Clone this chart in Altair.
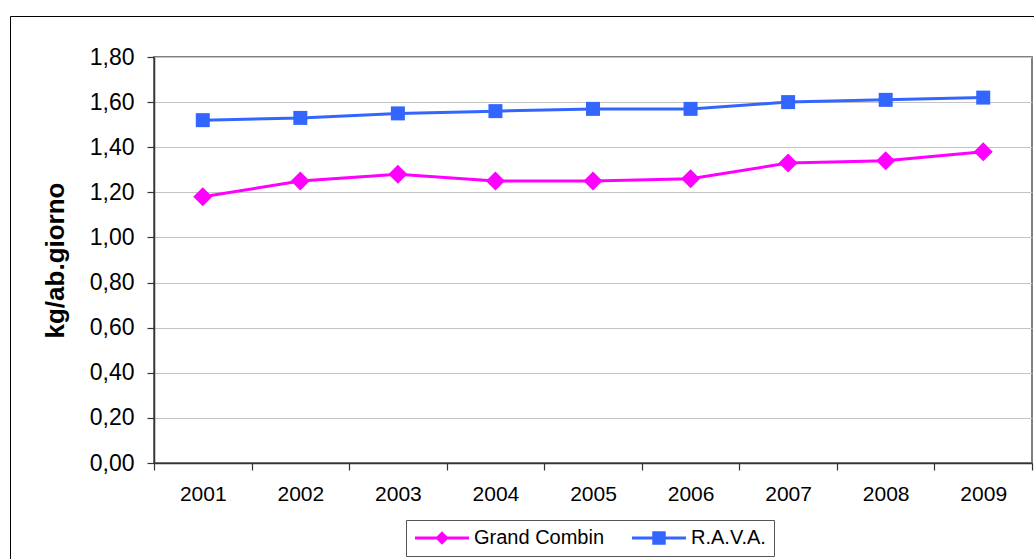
import altair as alt
import pandas as pd

# Daily waste per inhabitant (kg/ab.giorno), 2001-2009
years = ["2001", "2002", "2003", "2004", "2005", "2006", "2007", "2008", "2009"]
grand_combin = [1.18, 1.25, 1.28, 1.25, 1.25, 1.26, 1.33, 1.34, 1.38]
rava = [1.52, 1.53, 1.55, 1.56, 1.57, 1.57, 1.60, 1.61, 1.62]
series = ["Grand Combin", "R.A.V.A."]
colors = ["#FF00FF", "#3366FF"]
markers = ["diamond", "square"]
marker_sizes = [361, 196]
y_ticks = [0.0, 0.2, 0.4, 0.6, 0.8, 1.0, 1.2, 1.4, 1.6, 1.8]

df = pd.DataFrame({
    "anno": years * 2,
    "valore": grand_combin + rava,
    "serie": [series[0]] * len(years) + [series[1]] * len(years),
})

W, H = 878, 406
FONT = "Liberation Sans"

# legend glyphs: a short line with the marker in the middle
# (symbol size 324 -> 9 px per path unit)
legend_paths = [
    "M-3,-0.167H3V0.167H-3Z M0,-0.75L0.75,0L0,0.75L-0.75,0Z",
    "M-3,-0.167H3V0.167H-3Z M-0.75,-0.75H0.75V0.75H-0.75Z",
]

x_enc = alt.X(
    "anno:O",
    scale=alt.Scale(type="band", paddingInner=0, paddingOuter=0),
    bandPosition=0.5,
    axis=alt.Axis(
        title=None, labelAngle=0, tickBand="extent", grid=False,
        tickSize=7, labelPadding=13, labelFontSize=21,
    ),
)
y_enc = alt.Y(
    "valore:Q",
    scale=alt.Scale(domain=[0, 1.8], nice=False),
    axis=alt.Axis(
        values=y_ticks,
        labelExpr="replace(format(datum.value, '.2f'), '.', ',')",
        title="kg/ab.giorno", titleFontWeight="bold", titleFontSize=26,
        titlePadding=21, labelFontSize=23, tickSize=7, labelPadding=13,
        grid=True, gridColor="#c4c4c4", gridWidth=1,
    ),
)

base = alt.Chart(df)

# one line + marker layer per series
series_layers = []
for name, col, shp, sz in zip(series, colors, markers, marker_sizes):
    sub = base.transform_filter(alt.datum.serie == name)
    series_layers.append(sub.mark_line(strokeWidth=3, color=col).encode(x=x_enc, y=y_enc))
    series_layers.append(
        sub.mark_point(shape=shp, filled=True, size=sz, opacity=1, color=col)
        .encode(x=x_enc, y=y_enc)
    )

legend_props = dict(
    title=None, orient="none", legendX=252, legendY=463, direction="horizontal",
    labelFontSize=20, labelColor="#000000", labelOffset=22, symbolOffset=18,
    columnPadding=26, padding=8, strokeColor="#555555", fillColor="#ffffff",
    symbolSize=324, symbolStrokeWidth=0, symbolOpacity=1,
)

# invisible points that only carry the legend
legend_layer = base.mark_point(filled=True, size=324, opacity=0).encode(
    x=x_enc, y=y_enc,
    color=alt.Color("serie:N", scale=alt.Scale(domain=series, range=colors),
                    legend=alt.Legend(**legend_props)),
    shape=alt.Shape("serie:N", scale=alt.Scale(domain=series, range=legend_paths),
                    legend=alt.Legend(**legend_props)),
)

frame = alt.Chart(pd.DataFrame({"k": [0]})).mark_rect(
    fill="transparent", stroke="#000000", strokeWidth=1
).encode(
    x=alt.value(-143.5), x2=alt.value(W + 100),
    y=alt.value(-40.5), y2=alt.value(H + 200),
)

chart = alt.layer(frame, *series_layers, legend_layer).properties(
    width=W, height=H,
    autosize=alt.AutoSizeParams(type="none"),
    padding={"left": 154, "top": 57, "right": 2, "bottom": 96},
    background="#ffffff",
).configure(font=FONT).configure_view(
    stroke="#808080", strokeWidth=2
).configure_axis(
    domainColor="#333333", domainWidth=1.5, tickColor="#333333", tickWidth=1.2,
    labelColor="#000000", titleColor="#000000", labelFont=FONT, titleFont=FONT,
).configure_legend(labelFont=FONT)

chart.save("out.html", embed_options={"renderer": "svg", "actions": False})
